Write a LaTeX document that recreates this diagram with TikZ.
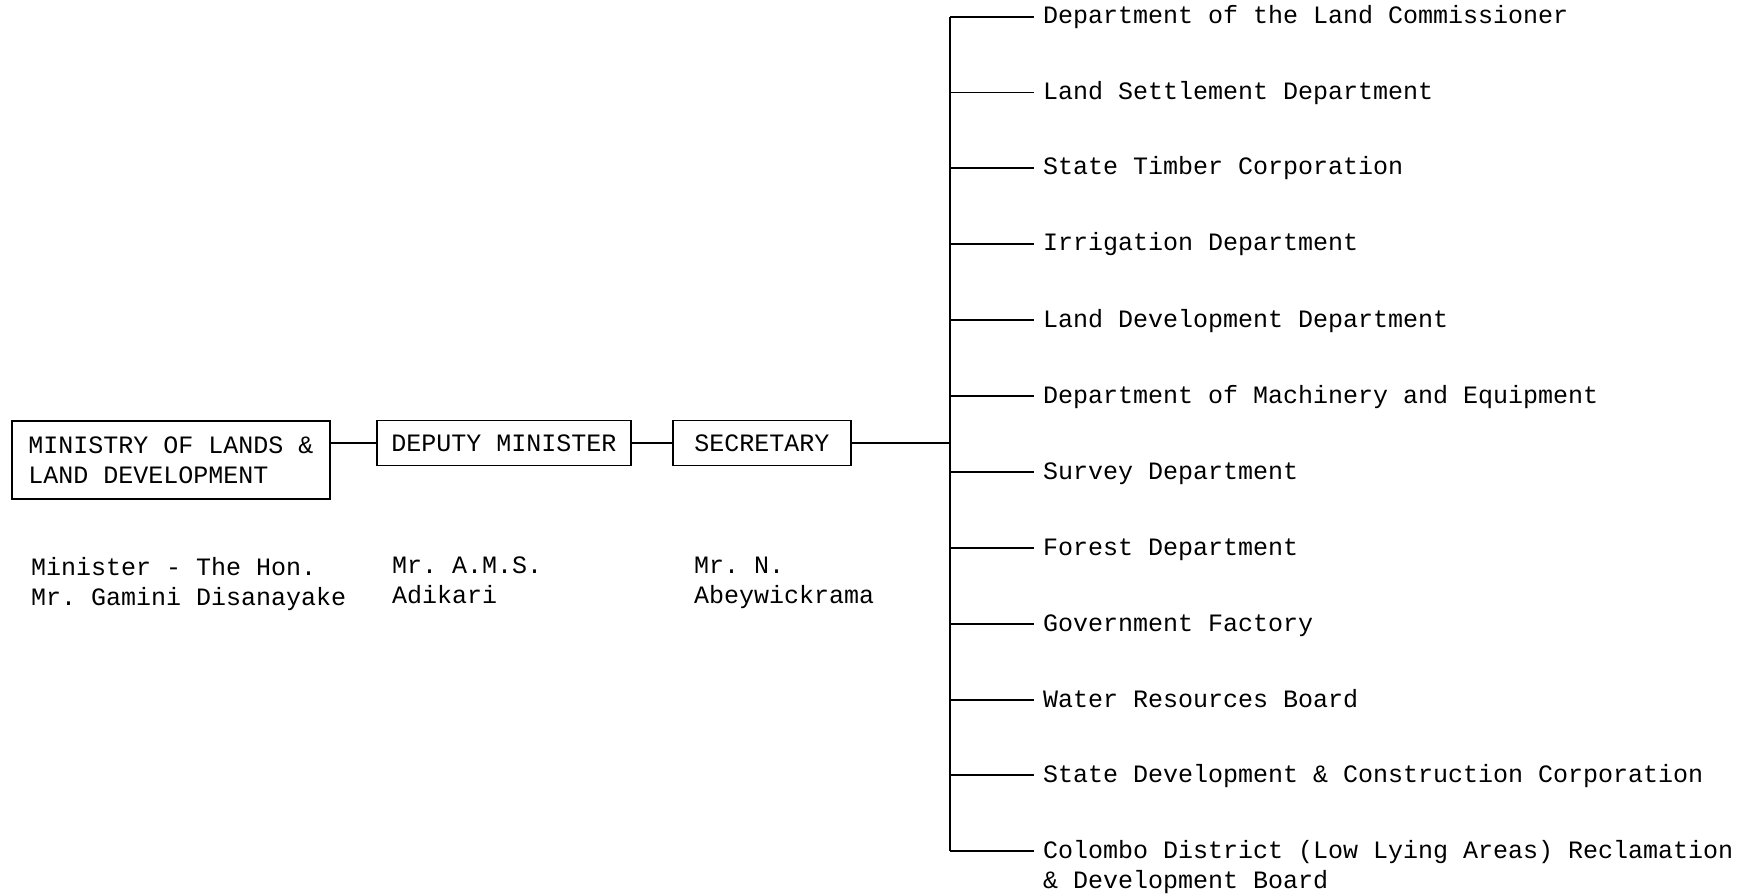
\documentclass[tikz,border=0pt]{standalone}
\usepackage{fontspec}
\setmonofont{Liberation Mono}
\begin{document}
\begin{tikzpicture}[x=1pt,y=-1pt,
  every node/.style={font=\ttfamily\fontsize{25}{30}\selectfont},
  box/.style={draw,line width=1.5pt,rectangle,inner sep=0pt},
  deptlabel/.style={anchor=west,inner xsep=9pt,inner ysep=0pt,text height=16pt,text depth=2pt},
  wire/.style={line width=1.5pt},
  person/.style={anchor=north west,inner sep=0pt,align=left}]
\useasboundingbox (0,0) rectangle (1748,896);
\node[box,minimum width=318pt,minimum height=78pt,align=left] (min) at (171,460) {MINISTRY OF LANDS \&\\LAND DEVELOPMENT};
\node[box,minimum width=254pt,minimum height=45pt] (dep) at (504,443) {DEPUTY MINISTER};
\node[box,minimum width=178pt,minimum height=45pt] (sec) at (762,443) {SECRETARY};
\draw[wire] (dep.west -| min.east) -- (dep.west);
\draw[wire] (dep.east) -- (sec.west);
\coordinate (top) at (950,17);
\coordinate (bot) at (950,851);
\draw[wire] (top) -- (bot);
\draw[wire] (sec.east) -- (sec.east -| top);
\node[person] (n1) at (31,557) {Minister - The Hon.\\Mr. Gamini Disanayake};
\node[person] (n2) at (392,557) {Mr. A.M.S.\\Adikari};
\node[person] (n3) at (694,557) {Mr. N.\\Abeywickrama};
\foreach \i/\y/\t in {1/17/Department of the Land Commissioner,
  2/92.5/Land Settlement Department,
  3/168/State Timber Corporation,
  4/244/Irrigation Department,
  5/320/Land Development Department,
  6/396/Department of Machinery and Equipment,
  7/472/Survey Department,
  8/548/Forest Department,
  9/624/Government Factory,
  10/700/Water Resources Board,
  11/775/State Development \& Construction Corporation,
  12/851/Colombo District (Low Lying Areas) Reclamation}{
  \coordinate (b\i) at (950,\y);
  \node[deptlabel] (d\i) at (1034,\y) {\t};
  \draw[wire] (b\i) -- (d\i.west);
}
\node[anchor=base west,inner sep=0pt] (d12b) at ([xshift=9pt,yshift=-30pt]d12.base west) {\& Development Board};
\end{tikzpicture}
\end{document}
